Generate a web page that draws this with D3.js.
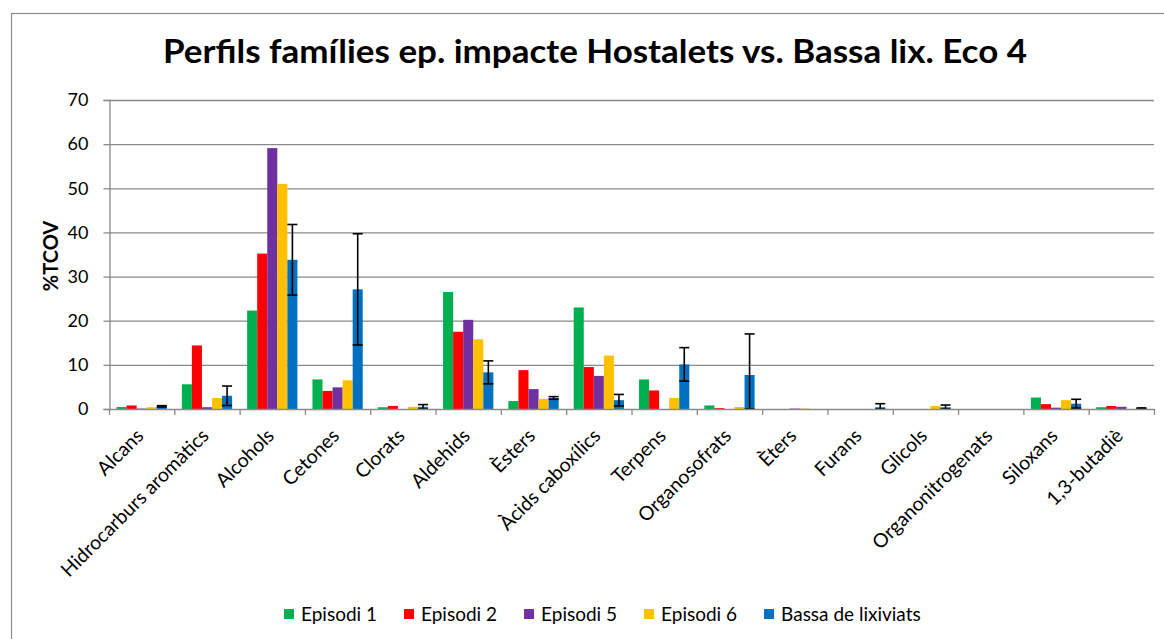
<!DOCTYPE html>
<html><head><meta charset="utf-8">
<script src="https://cdn.jsdelivr.net/npm/d3@7"></script>
<style>body{margin:0;background:#fff}svg{display:block}text{font-family:Lato,"Liberation Sans",sans-serif}</style>
</head><body><svg id="c" width="1164" height="639"></svg>
<script>
const categories = ["Alcans","Hidrocarburs aromàtics","Alcohols","Cetones","Clorats","Aldehids","Èsters","Àcids caboxílics","Terpens","Organosofrats","Èters","Furans","Glicols","Organonitrogenats","Siloxans","1,3-butadiè"];
const seriesNames = ["Episodi 1","Episodi 2","Episodi 5","Episodi 6","Bassa de lixiviats"];
const episodi1 = [0.45,5.6,22.3,6.7,0.4,26.5,1.8,23.0,6.7,0.8,0,0,0,0,2.6,0.4];
const episodi2 = [0.8,14.4,35.2,4.1,0.7,17.5,8.8,9.5,4.2,0.2,0,0,0,0,1.1,0.7];
const episodi5 = [0.1,0.4,59.1,4.9,0,20.2,4.5,7.5,0,0,0.1,0,0,0,0.3,0.5];
const episodi6 = [0.4,2.5,51.0,6.5,0.5,15.8,2.3,12.1,2.5,0.45,0.1,0,0.7,0,2.0,0];
const bassa = [0.6,3.0,33.8,27.1,0.5,8.3,2.5,2.0,10.1,7.7,0,0.4,0.4,0,1.2,0.15];
const bassaErr = [0.15,2.2,8.0,12.6,0.5,2.6,0.3,1.3,3.8,9.3,0,0.8,0.5,0,1.0,0.1];
const yTicks = [0,10,20,30,40,50,60,70];
const colors = ["#00B050","#FF0000","#7030A0","#FFC000","#0070C0"];

const seriesVals = [episodi1,episodi2,episodi5,episodi6,bassa];
const svg = d3.select("#c");
const L=109,R=1154,T=100,B=409;
svg.append("rect").attr("x",11.5).attr("y",13.5).attr("width",1170).attr("height",700).attr("fill","#fff").attr("stroke","#8c8c8c").attr("stroke-width",1.2);

const x = d3.scaleBand().domain(categories).range([L,R]).paddingInner(0.23).paddingOuter(0.115);
const xs = d3.scaleBand().domain(d3.range(5)).range([0,x.bandwidth()]);
const y = d3.scaleLinear().domain([0,70]).range([B,T]);

// gridlines
svg.append("g").selectAll("line").data(yTicks.filter(d=>d>0)).join("line")
 .attr("x1",L).attr("x2",R).attr("y1",d=>y(d)+0.5).attr("y2",d=>y(d)+0.5)
 .attr("stroke","#8a8a8a").attr("stroke-width",1.3);

// y axis
const ya = svg.append("g").attr("transform",`translate(${L+0.5},0)`).call(d3.axisLeft(y).tickValues(yTicks).tickSize(6).tickPadding(15));
ya.select(".domain").attr("stroke","#8a8a8a").attr("stroke-width",1.3);
ya.selectAll(".tick line").attr("stroke","#8a8a8a").attr("stroke-width",1.3);
ya.selectAll(".tick text").attr("font-size",18).attr("fill","#000").attr("font-family","Lato");

// bars
const groups = svg.append("g").selectAll("g").data(categories).join("g").attr("transform",d=>`translate(${x(d)},0)`);
groups.selectAll("rect").data((c,i)=>seriesVals.map((s,k)=>({k,v:s[i]}))).join("rect")
 .attr("x",d=>xs(d.k)).attr("width",xs.bandwidth())
 .attr("y",d=>y(d.v)).attr("height",d=>B-y(d.v)).attr("fill",d=>colors[d.k]);

// error bars
const eg = svg.append("g").attr("stroke","#000").attr("stroke-width",1.6);
categories.forEach((c,i)=>{
  if(!bassaErr[i]) return;
  const cx = x(c)+xs(4)+xs.bandwidth()/2;
  const hi = y(bassa[i]+bassaErr[i]), lo = y(Math.max(0,bassa[i]-bassaErr[i]));
  eg.append("line").attr("x1",cx).attr("x2",cx).attr("y1",hi).attr("y2",lo);
  eg.append("line").attr("x1",cx-5).attr("x2",cx+5).attr("y1",hi).attr("y2",hi);
  eg.append("line").attr("x1",cx-5).attr("x2",cx+5).attr("y1",lo).attr("y2",lo);
});

// x axis
const step = (R-L)/categories.length;
const xa = svg.append("g");
xa.append("line").attr("x1",L).attr("x2",R+0.5).attr("y1",B+0.5).attr("y2",B+0.5).attr("stroke","#8a8a8a").attr("stroke-width",1.5);
xa.selectAll("line.t").data(d3.range(categories.length+1)).join("line").attr("class","t")
 .attr("x1",i=>L+0.5+i*step).attr("x2",i=>L+0.5+i*step).attr("y1",B).attr("y2",B+6).attr("stroke","#8a8a8a").attr("stroke-width",1.3);
xa.selectAll("text").data(categories).join("text")
 .attr("transform",d=>`translate(${x(d)+x.bandwidth()/2+3},${B+28}) rotate(-45)`)
 .attr("text-anchor","end").attr("font-size",19.5).attr("fill","#000").text(d=>d);

// title
svg.append("text").attr("x",595).attr("y",63).attr("text-anchor","middle").attr("font-size",33).attr("font-weight","bold").attr("fill","#000")
 .attr("textLength",864).attr("lengthAdjust","spacingAndGlyphs")
 .text("Perfils famílies ep. impacte Hostalets vs. Bassa lix. Eco 4");
// y label
svg.append("text").attr("transform","translate(58,256) rotate(-90)").attr("text-anchor","middle").attr("font-size",20).attr("font-weight","bold").text("%TCOV");

// legend
const lg = svg.append("g");
let lx = 284;
seriesNames.forEach((n,k)=>{
  lg.append("rect").attr("x",lx).attr("y",609).attr("width",10).attr("height",10).attr("fill",colors[k]);
  const t = lg.append("text").attr("x",lx+17).attr("y",621).attr("font-size",19).text(n);
  lx += 17 + t.node().getComputedTextLength() + 27;
});
</script></body></html>
